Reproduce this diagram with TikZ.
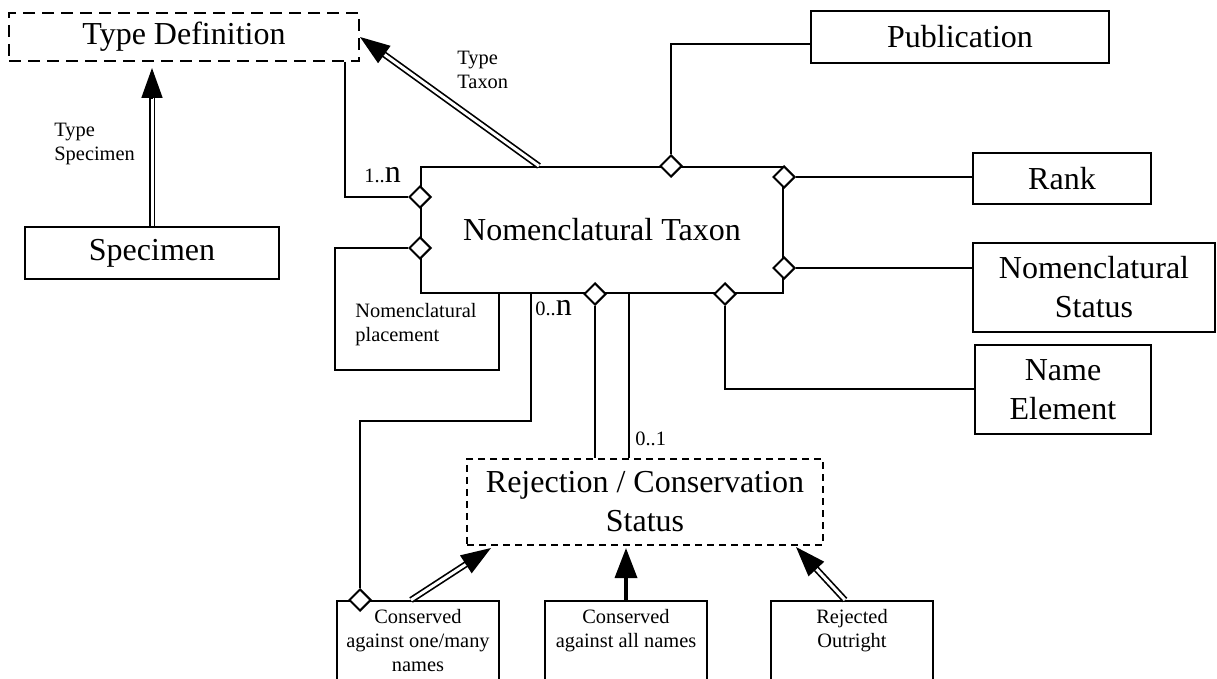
\documentclass[tikz,border=0pt]{standalone}
\usepackage{fontspec}
\setmainfont{Liberation Serif}
\usetikzlibrary{positioning,shapes,arrows.meta,calc}

\begin{document}
\begin{tikzpicture}[
  x=0.5pt, y=-0.5pt,
  line/.style={
    line width=1pt,
    draw=black,
  },
  box/.style={
    line, inner sep=0pt, align=center,
    font=\fontsize{16}{19.5}\selectfont,
  },
  dashbox/.style={box, dash pattern=on 6pt off 3.5pt},
  leaf/.style={line, inner sep=0pt, minimum width=81pt, minimum height=44.5pt},
  small/.style={inner sep=0pt, font=\fontsize{10.2}{12}\selectfont},
  agg/.style={line, diamond, fill=white, inner sep=0pt, minimum size=11pt},
  gen/.style={line width=0.85pt, double, double distance=1.5pt},
  head/.style={line width=0.85pt, -{Triangle[length=15pt,width=10.5pt]}},
  ]
  \useasboundingbox (0,0) rectangle (1217,679);
  \clip (0,0) rectangle (1217,679);

  \node[dashbox, minimum width=175pt, minimum height=24pt] (typedef) at (184,37) {Type Definition};
  \node[box, minimum width=127pt, minimum height=26pt] (specimen) at (152,253) {Specimen};
  \node[box, minimum width=181pt, minimum height=63pt] (taxon) at (602,230) {Nomenclatural Taxon};
  \node[box, minimum width=149pt, minimum height=26pt] (publication) at (960,37) {Publication};
  \node[box, minimum width=89pt, minimum height=25.5pt] (rank) at (1062,178.5) {Rank};
  \node[box, minimum width=121pt, minimum height=44.5pt] (nomstatus) at (1094,287.5) {Nomenclatural\\Status};
  \node[box, minimum width=88pt, minimum height=44.5pt] (nameelem) at (1063,389.5) {Name\\Element};
  \node[dashbox, dash pattern=on 3.5pt off 2.5pt, minimum width=178pt, minimum height=43pt] (rejcons) at (645,502) {Rejection / Conservation\\Status};
  \node[leaf] (consone) at (418,645.5) {};
  \node[leaf] (consall) at (626,645.5) {};
  \node[leaf] (rejout) at (852,645.5) {};

  \node[small, align=center, below=4.5pt of consone.north] (consonetxt) {Conserved\\against one/many\\names};
  \node[small, align=center, below=4.5pt of consall.north] (consalltxt) {Conserved\\against all names};
  \node[small, align=center, below=4.5pt of rejout.north] (rejouttxt) {Rejected\\Outright};

  \node[agg] (d1n) at (taxon.west |- 0,197) {};
  \node[agg] (dplace) at (taxon.west |- 0,248) {};
  \node[agg] (dpub) at (taxon.north -| 671,0) {};
  \node[agg] (drank) at (taxon.east |- 0,177) {};
  \node[agg] (dstatus) at (taxon.east |- 0,268) {};
  \node[agg] (delem) at (taxon.south -| 725,0) {};
  \node[agg] (drej) at (taxon.south -| 595,0) {};
  \node[agg] (dcons) at (consone.north -| 360,0) {};

  \draw[line] (typedef.south -| 345,0) |- (d1n);
  \draw[line] (dplace) -| (335,370) -| (taxon.south -| 499,0);
  \draw[line] (dpub) |- ($(publication.west)+(0,7)$);
  \draw[line] (drank) -- (rank.west |- drank);
  \draw[line] (dstatus) -- (nomstatus.west |- dstatus);
  \draw[line] (delem) |- (nameelem.west);
  \draw[line] (drej) -- (rejcons.north -| drej);
  \draw[line] (taxon.south -| 629,0) -- (rejcons.north -| 629,0);
  \draw[line] (taxon.south -| 531,0) |- (360,421) -- (dcons);

  \coordinate (tsTip) at ($(specimen.north |- typedef.south)+(0,6)$);
  \coordinate (ttTail) at ($(taxon.north west)+(119,0)$);
  \coordinate (coTail) at ($(consone.north west)+(75,0)$);
  \coordinate (coTip) at ($(rejcons.south west)+(25,2)$);
  \coordinate (roTail) at ($(rejout.north west)+(75,0)$);
  \coordinate (roTip) at ($(rejcons.south east)+(-28,1)$);
  \foreach \src/\dst in {specimen.north/tsTip, ttTail/typedef.east, coTail/coTip, roTail/roTip}
  {
    \draw[gen] (\src) -- ($(\dst)!14pt!(\src)$);
    \draw[head] ($(\dst)!15pt!(\src)$) -- (\dst);
  }
  \draw[line, line width=1.75pt, -{Triangle[length=15pt,width=11pt]}] (consall.north) -- ($(consall.north |- rejcons.south)+(0,2)$);

  \node[small, anchor=north west, align=left] (tslbl) at (54,123) {Type\\Specimen};
  \node[small, anchor=north west, align=left] (ttlbl) at (457,51) {Type\\Taxon};
  \node[small, anchor=north west, align=left] (placelbl) at (355,303) {Nomenclatural\\placement};
  \node[small, anchor=base west] (m1n) at (364,183) {1..{\fontsize{16}{19}\selectfont n}};
  \node[small, anchor=base west] (m0n) at (535,316) {0..{\fontsize{16}{19}\selectfont n}};
  \node[small, anchor=base west] (m01) at (635,445) {0..1};
\end{tikzpicture}
\end{document}
